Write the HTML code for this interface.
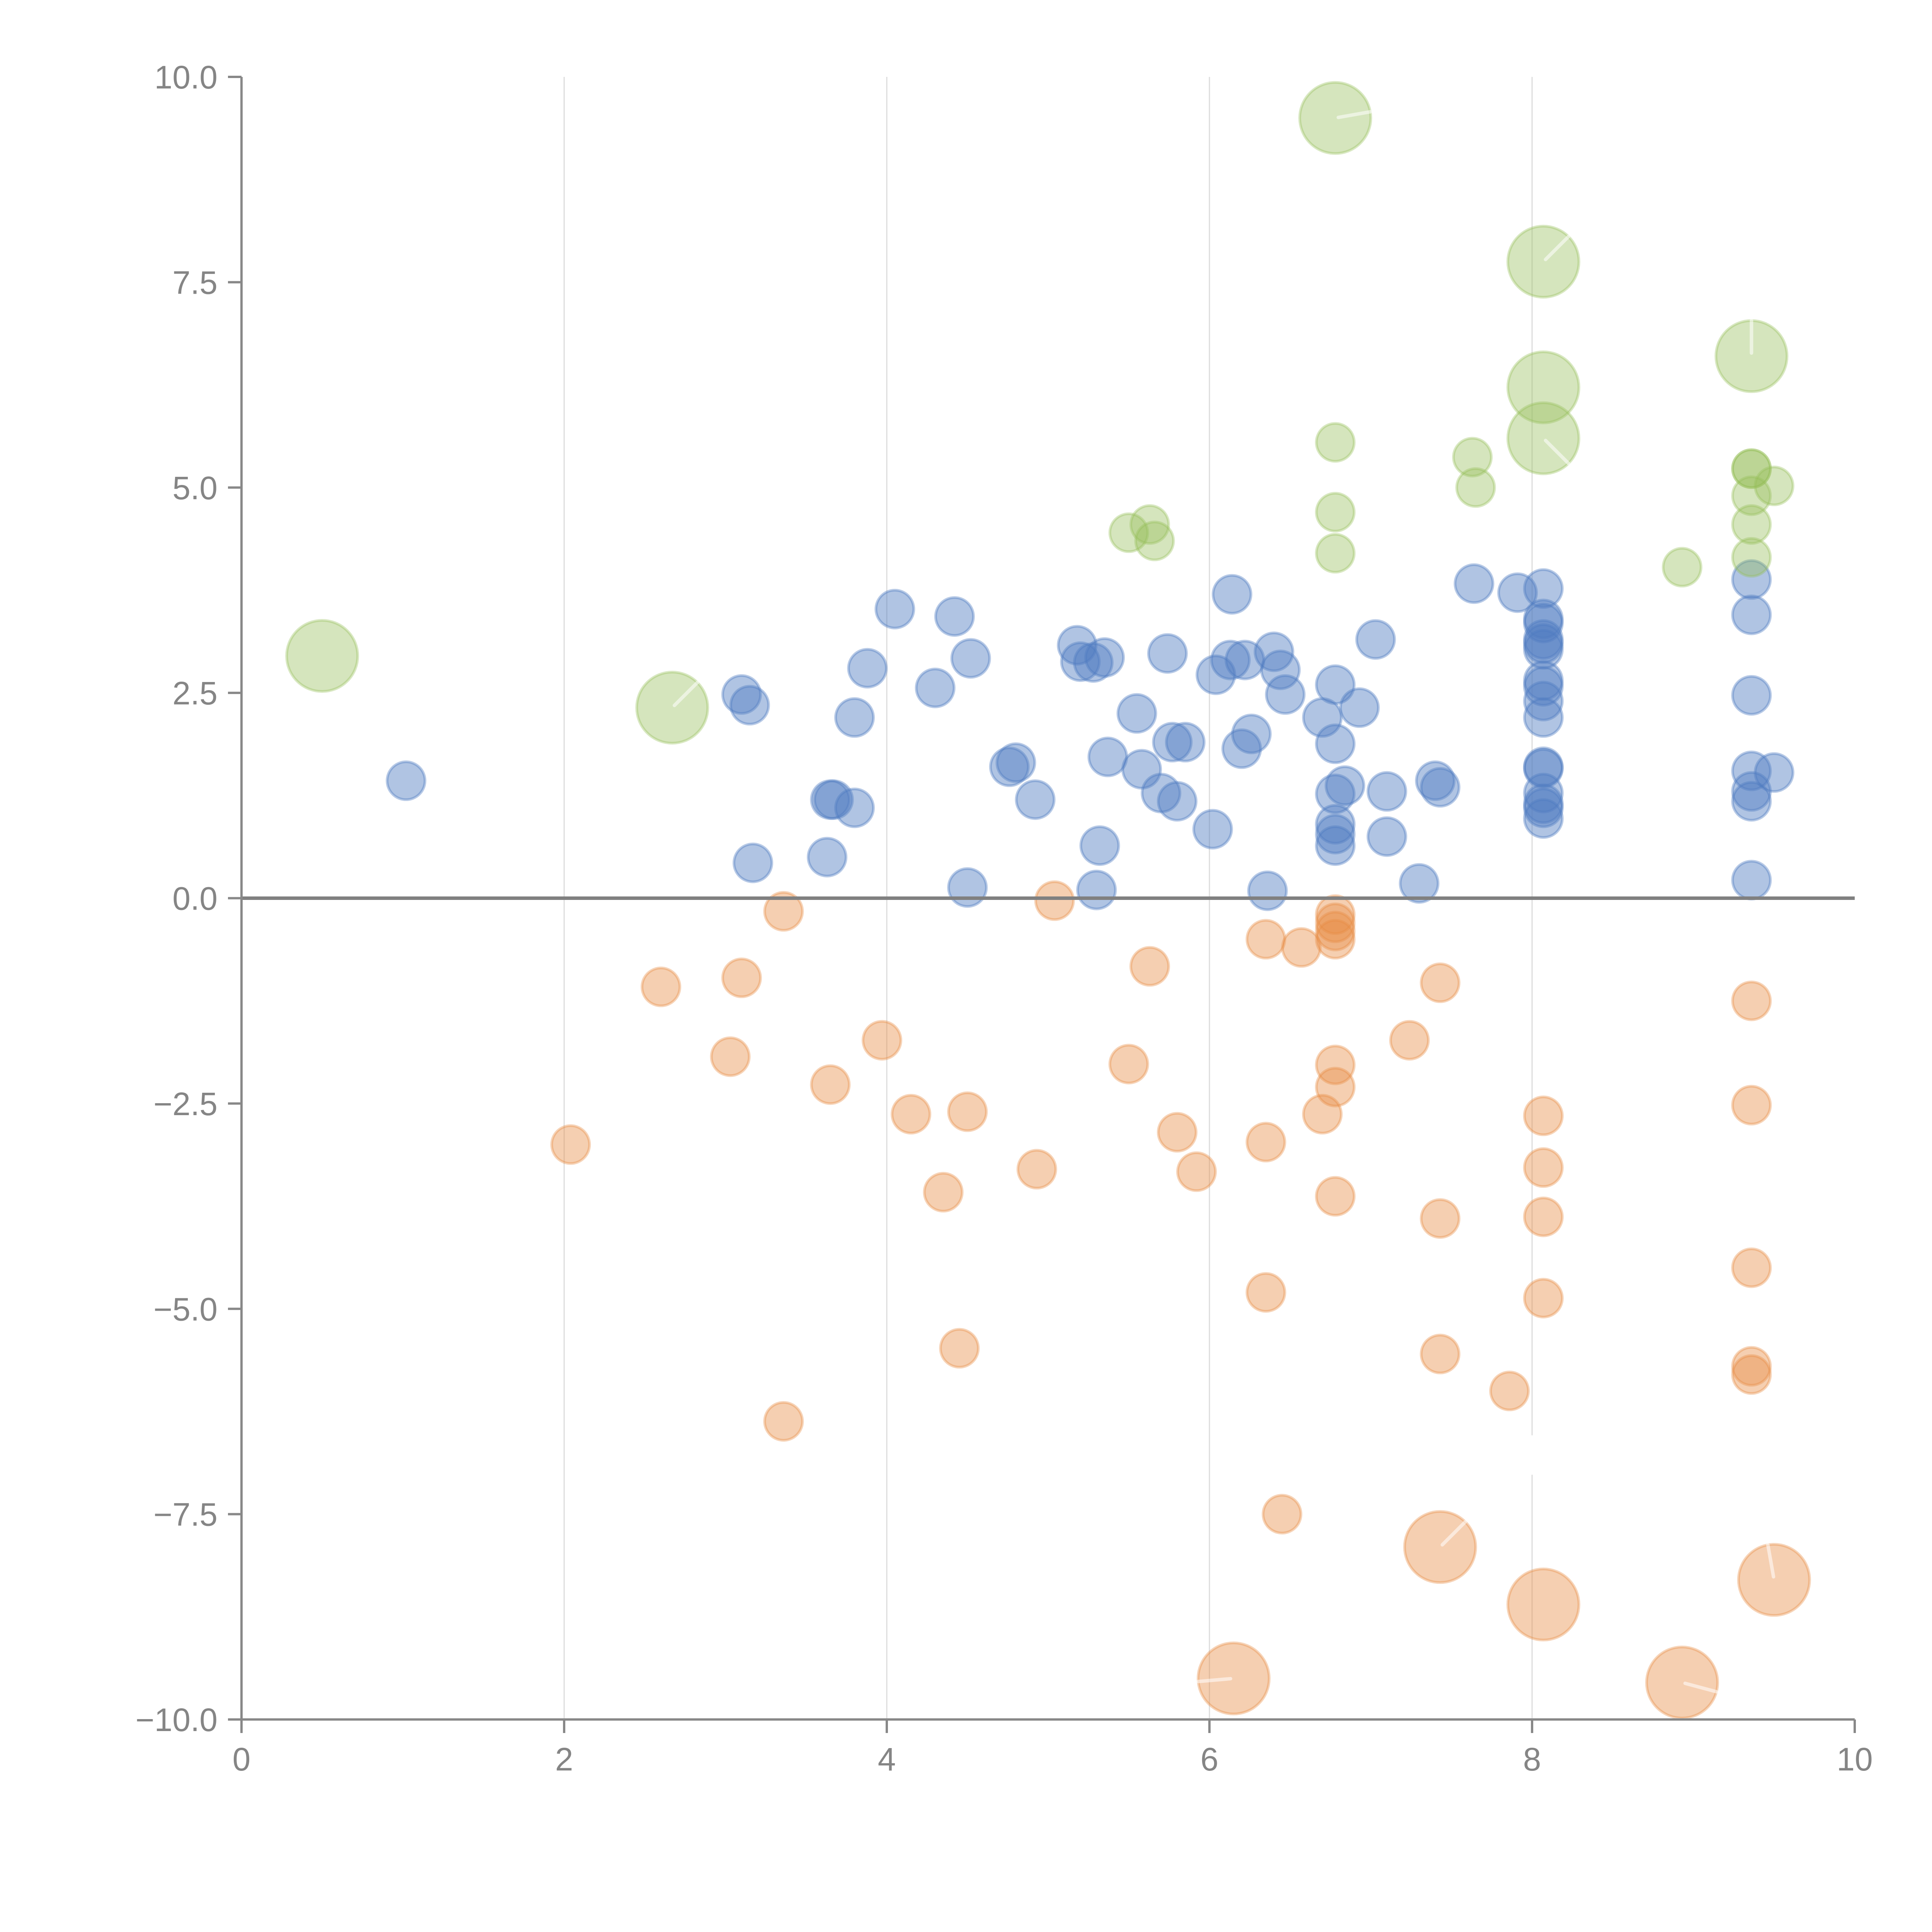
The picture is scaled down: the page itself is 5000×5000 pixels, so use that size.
<!DOCTYPE html>
<html><head><meta charset="utf-8"><style>
html,body{margin:0;padding:0;background:#fff;}
svg{display:block;}
text{font-family:"Liberation Sans",Arial,sans-serif;fill:#858585;font-size:84px;}
</style></head><body>
<svg id="chart" width="5000" height="5000" viewBox="0 0 5000 5000" xmlns="http://www.w3.org/2000/svg">
<g id="grid"></g>
<g id="marks"></g>
<g id="axes"></g>
</svg>
<script>
const xTicks=[0,2,4,6,8,10];
const xTickLabels=["0","2","4","6","8","10"];
const yTicks=[10,7.5,5,2.5,0,-2.5,-5,-7.5,-10];
const yTickLabels=["10.0","7.5","5.0","2.5","0.0","\u22122.5","\u22125.0","\u22127.5","\u221210.0"];

const greenX=[0.5,2.67,6.78,8.07,8.07,8.07,9.36,6.78,6.78,6.78,7.63,7.65,5.5,5.63,5.66,8.93,9.36,9.36,9.36,9.5,9.36,9.36];
const greenY=[2.95,2.32,9.5,7.75,6.22,5.6,6.6,5.55,4.7,4.2,5.37,5.0,4.45,4.55,4.35,4.03,5.23,5.23,4.9,5.02,4.55,4.15];
const greenBig=[1,1,1,1,1,1,1,0,0,0,0,0,0,0,0,0,0,0,0,0,0,0];
const greenAngle=[null,-45,-10,-45,null,45,-90];

const blueX=[1.02,3.1,3.15,3.17,3.63,3.65,3.67,3.8,3.8,3.88,4.05,4.3,4.42,4.5,4.52,4.76,4.8,4.92,5.18,5.2,5.28,5.35,5.3,5.32,5.37,5.55,5.58,5.7,5.74,5.77,5.8,5.85,6.02,6.04,6.14,6.13,6.2,6.22,6.26,6.36,6.4,6.44,6.47,6.7,6.78,6.78,6.78,6.84,6.78,6.78,6.78,6.93,7.03,7.1,7.1,7.3,7.4,7.43,7.64,7.91,8.07,8.07,8.07,8.07,8.07,8.07,8.07,8.07,8.07,8.07,8.07,8.07,8.07,8.07,8.07,8.07,9.36,9.36,9.36,9.36,9.5,9.36,9.36,9.36];
const blueY=[1.43,2.48,2.35,0.43,0.5,1.2,1.2,1.1,2.2,2.8,3.52,2.56,3.43,0.13,2.92,1.6,1.65,1.2,3.08,2.88,2.87,2.93,0.1,0.64,1.72,2.25,1.57,1.28,2.98,1.9,1.18,1.9,0.84,2.72,3.7,2.9,1.82,2.9,2.0,0.09,3.0,2.78,2.48,2.2,2.6,1.88,1.27,1.37,0.9,0.78,0.64,2.32,3.15,1.3,0.75,0.18,1.43,1.35,3.83,3.72,3.77,3.4,3.35,3.15,3.1,3.03,2.65,2.58,2.4,2.2,1.6,1.58,1.28,1.15,1.1,0.97,3.88,3.45,2.47,1.55,1.53,1.3,1.18,0.22];

const orangeX=[6.15,7.43,8.07,8.93,9.5,2.04,2.6,3.03,3.1,3.36,3.36,3.65,3.97,4.15,4.35,4.45,4.5,4.93,5.04,5.5,5.63,5.8,5.92,6.35,6.35,6.35,6.45,6.57,6.7,6.78,6.78,6.78,6.78,6.78,6.78,6.78,7.24,7.43,7.43,7.43,7.86,8.07,8.07,8.07,8.07,9.36,9.36,9.36,9.36,9.36];
const orangeY=[-9.5,-7.9,-8.6,-9.55,-8.3,-3.0,-1.08,-1.93,-0.97,-0.16,-6.37,-2.27,-1.73,-2.63,-3.58,-5.48,-2.6,-3.3,-0.03,-2.02,-0.83,-2.85,-3.33,-0.5,-2.97,-4.8,-7.5,-0.6,-2.63,-0.2,-0.3,-0.4,-0.5,-2.03,-2.3,-3.63,-1.73,-1.03,-3.9,-5.55,-6.0,-2.65,-3.28,-3.88,-4.87,-1.25,-2.52,-4.5,-5.7,-5.8];
const orangeBig=[1,1,1,1,1,0,0,0,0,0,0,0,0,0,0,0,0,0,0,0,0,0,0,0,0,0,0,0,0,0,0,0,0,0,0,0,0,0,0,0,0,0,0,0,0,0,0,0,0,0];
const orangeAngle=[175,-45,null,15,-100];

const X0=625,X1=4800,Y0=199,Y1=4450;
const sx=v=>X0+(v-0)/(10-0)*(X1-X0);
const sy=v=>Y0+(10-v)/(20)*(Y1-Y0);
const NS="http://www.w3.org/2000/svg";
function mk(tag,attrs,parent){const e=document.createElementNS(NS,tag);for(const k in attrs)e.setAttribute(k,attrs[k]);parent.appendChild(e);return e;}

const grid=document.getElementById('grid');
[2,4,6].forEach(v=>{
  const l=mk('line',{x1:sx(v),x2:sx(v),y1:sy(10),y2:sy(-10),stroke:'#dcdcdc','stroke-width':3},grid);
  
  
});
const g8a=mk('line',{x1:sx(8),x2:sx(8),y1:sy(10),y2:sy(-6.54),stroke:'#dcdcdc','stroke-width':3},grid);


const g8b=mk('line',{x1:sx(8),x2:sx(8),y1:sy(-7.02),y2:sy(-10),stroke:'#dcdcdc','stroke-width':3},grid);



const marks=document.getElementById('marks');
const RS=49,RB=92;
function series(xs,ys,bigs,angles,rgb,name,op){
  const g=mk('g',{},marks);
  
  
  let bi=0;
  for(let i=0;i<xs.length;i++){
    const big=bigs&&bigs[i];
    const r=big?RB:RS;
    const cx=sx(xs[i]),cy=sy(ys[i]);
    const c=mk('circle',{cx:cx,cy:cy,r:r,fill:'rgba('+rgb+','+op+')',stroke:'rgba('+rgb+','+(op*0.9)+')','stroke-width':7},g);
    
    
    if(big){
      const a=angles?angles[bi]:null;bi++;
      if(a!==null&&a!==undefined){
        const t=a*Math.PI/180;
        const ln=mk('line',{x1:cx+Math.cos(t)*8,y1:cy+Math.sin(t)*8,x2:cx+Math.cos(t)*r,y2:cy+Math.sin(t)*r,stroke:'rgba(255,255,255,0.55)','stroke-width':9,'stroke-linecap':'round'},g);
        
        
      }
    }
  }
}
series(orangeX,orangeY,orangeBig,orangeAngle,'232,140,70',"orange",0.42);
series(blueX,blueY,null,null,'79,125,192',"blue",0.45);
series(greenX,greenY,greenBig,greenAngle,'150,190,90',"green",0.4);

const axes=document.getElementById('axes');
const zl=mk('line',{x1:X0,x2:X1,y1:sy(0),y2:sy(0),stroke:'#808080','stroke-width':9},axes);


const ya=mk('line',{x1:X0,x2:X0,y1:Y0,y2:Y1,stroke:'#888','stroke-width':6},axes);


const xa=mk('line',{x1:X0,x2:X1,y1:Y1,y2:Y1,stroke:'#888','stroke-width':6},axes);


yTicks.forEach((v,i)=>{
  const t=mk('line',{x1:X0-35,x2:X0,y1:sy(v),y2:sy(v),stroke:'#888','stroke-width':6},axes);
  
  
  const tx=mk('text',{x:X0-62,y:sy(v)+30,'text-anchor':'end'},axes);
  tx.textContent=yTickLabels[i];
  
  
});
xTicks.forEach((v,i)=>{
  const t=mk('line',{x1:sx(v),x2:sx(v),y1:Y1,y2:Y1+35,stroke:'#888','stroke-width':6},axes);
  
  
  const tx=mk('text',{x:sx(v),y:Y1+132,'text-anchor':'middle'},axes);
  tx.textContent=xTickLabels[i];
  
  
});
</script>
</body></html>
